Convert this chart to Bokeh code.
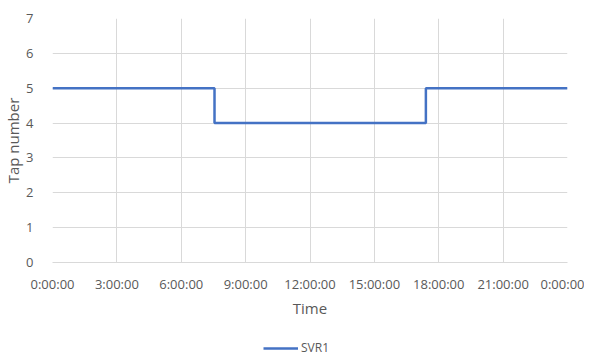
from bokeh.plotting import figure
from bokeh.layouts import column
from bokeh.models import FixedTicker, Legend, LegendItem, Range1d
from bokeh.embed import file_html
from bokeh.resources import INLINE

# data: step changes of tap number (time in hours)
time_hours = [0, 7.55, 17.4, 24]
tap_number = [5, 4, 5, 5]
x_ticks = [0, 3, 6, 9, 12, 15, 18, 21, 24]
x_tick_labels = ["0:00:00", "3:00:00", "6:00:00", "9:00:00", "12:00:00",
                 "15:00:00", "18:00:00", "21:00:00", "0:00:00"]
y_ticks = [0, 1, 2, 3, 4, 5, 6, 7]
series_name = "SVR1"

FONT = "Open Sans"
GREY = "#595959"
LINE = "#4472C4"

p = figure(frame_width=515, frame_height=244, output_backend="svg", toolbar_location=None,
           x_range=Range1d(0, 24), y_range=Range1d(0, 7))
p.min_border_left = 44
p.min_border_right = 17
p.min_border_top = 18
p.min_border_bottom = 60
p.outline_line_color = None

r = p.step(time_hours, tap_number, mode="after", line_color=LINE, line_width=2.5)

p.xaxis.ticker = FixedTicker(ticks=x_ticks)
p.xaxis.major_label_overrides = {t: l for t, l in zip(x_ticks, x_tick_labels)}
p.yaxis.ticker = FixedTicker(ticks=y_ticks)

for ax in (p.xaxis[0], p.yaxis[0]):
    ax.major_tick_line_color = None
    ax.minor_tick_line_color = None
    ax.major_label_text_font = FONT
    ax.major_label_text_font_size = "13px"
    ax.major_label_text_color = GREY
    ax.axis_label_text_font = FONT
    ax.axis_label_text_font_size = "15px"
    ax.axis_label_text_font_style = "normal"
    ax.axis_label_text_color = GREY

p.xaxis.axis_label = "Time"
p.yaxis.axis_label = "Tap number"
p.xaxis.axis_line_color = "#d9d9d9"
p.yaxis.axis_line_color = None
p.xaxis.major_label_standoff = 6
p.yaxis.major_label_standoff = 13
p.xaxis.axis_label_standoff = 2
p.yaxis.axis_label_standoff = 0

p.xgrid.grid_line_color = "#d9d9d9"
p.ygrid.grid_line_color = "#d9d9d9"
p.xgrid.grid_line_width = 1
p.ygrid.grid_line_width = 1

# legend strip below the chart (series legend for the same line)
p2 = figure(width=576, height=40, output_backend="svg", toolbar_location=None,
            x_range=Range1d(0, 24), y_range=Range1d(0, 7),
            x_axis_location=None, y_axis_location=None)
p2.min_border_left = 0
p2.min_border_right = 0
p2.min_border_top = 0
p2.min_border_bottom = 0
p2.outline_line_color = None
p2.xgrid.visible = False
p2.ygrid.visible = False
r2 = p2.step(time_hours, tap_number, mode="after", line_color=LINE, line_width=2.5)
r2.visible = False

legend = Legend(items=[LegendItem(label=series_name, renderers=[r2])],
                orientation="horizontal", location=(211, 6))
legend.label_text_font = FONT
legend.label_text_font_size = "12px"
legend.label_text_color = GREY
legend.border_line_color = None
legend.background_fill_alpha = 0
legend.inactive_fill_alpha = 0
legend.glyph_width = 35
legend.glyph_height = 12
legend.label_height = 12
legend.label_standoff = 3
legend.margin = 0
legend.padding = 0
p2.add_layout(legend, "center")

layout = column(p, p2)
open("out.html", "w").write(file_html(layout, INLINE))
